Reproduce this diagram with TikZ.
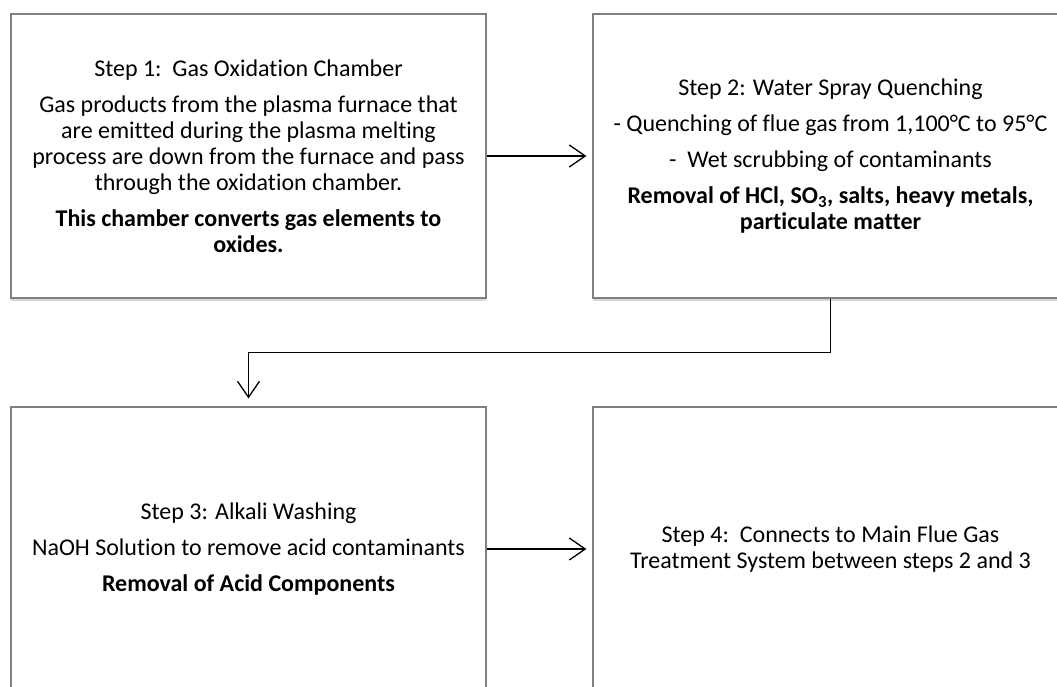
\documentclass[tikz,border=0pt]{standalone}
\usepackage{fontspec}
\setmainfont{Carlito}[Ligatures=NoCommon]
\definecolor{boxgray}{RGB}{128,128,128}
\usetikzlibrary{calc, arrows.meta, shadows}

\begin{document}
\begin{tikzpicture}[x=1pt, y=-1pt,
    stepbox/.style={draw=boxgray, line width=1.2pt, fill=white,
      minimum width=475pt, minimum height=284pt, inner sep=0pt,
      align=center, font=\fontsize{24}{26}\selectfont,
      drop shadow={shadow xshift=0pt, shadow yshift=-2.5pt, opacity=0.35, fill=black!45}},
    arrow/.style={-{Straight Barb[length=16pt, width=22pt]}, line width=1.3pt, black},
  ]
    \useasboundingbox (0,0) rectangle (1057,687);

    \node[stepbox] (s1) at (248.5, 156) {Step 1:\ \ Gas Oxidation Chamber\\[10pt]
      Gas products from the plasma furnace that\\
      are emitted during the plasma melting\\
      process are down from the furnace and pass\\
      through the oxidation chamber.\\[10pt]
      \textbf{This chamber converts gas elements to}\\
      \textbf{oxides.}};
    \node[stepbox] (s2) at (830.5, 156) {Step 2: Water Spray Quenching\\[10pt]
      - Quenching of flue gas from 1,100°C to 95°C\\[10pt]
      -\ \ Wet scrubbing of contaminants\\[10pt]
      \textbf{Removal of HCl, SO\textsubscript{3}, salts, heavy metals,}\\
      \textbf{particulate matter}};
    \node[stepbox] (s3) at (248.5, 549) {Step 3: Alkali Washing\\[10pt]
      NaOH Solution to remove acid contaminants\\[10pt]
      \textbf{Removal of Acid Components}};
    \node[stepbox] (s4) at (830.5, 549) {Step 4:\ \ Connects to Main Flue Gas\\
      Treatment System between steps 2 and 3};

    \coordinate (turn) at ($(s2.south)!0.5!(s3.north)$);

    \draw[arrow, shorten >=6pt] (s1.east) -- (s2.west);
    \draw[arrow, shorten >=8pt] (s2.south) -- (s2.south |- turn) -- (s3.north |- turn) -- (s3.north);
    \draw[arrow, shorten >=6pt] (s3.east) -- (s4.west);
  \end{tikzpicture}
\end{document}
